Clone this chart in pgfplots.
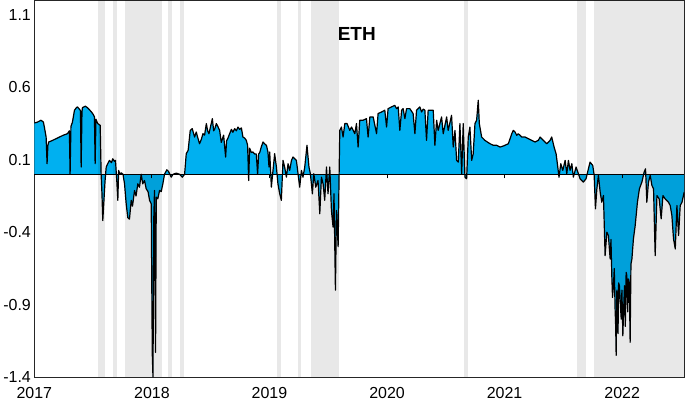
\documentclass[border=0pt]{standalone}
\usepackage{fontspec}
\setmainfont{Liberation Sans}
\usepackage{pgfplots}
\usepackage{pgfplotstable}
\pgfplotsset{compat=1.18}
\definecolor{ethblue}{RGB}{0,176,240}

% x: decimal year, y: value
\pgfplotstableread{
x y
2017.000 0.354
2017.026 0.36
2017.057 0.373
2017.077 0.36
2017.085 0.326
2017.100 0.257
2017.108 0.073
2017.115 0.20
2017.122 0.223
2017.145 0.23
2017.170 0.24
2017.196 0.25
2017.221 0.26
2017.247 0.27
2017.281 0.28
2017.298 0.30
2017.304 0.0
2017.311 0.33
2017.324 0.36
2017.341 0.442
2017.358 0.46
2017.366 0.465
2017.383 0.45
2017.392 0.44
2017.398 0.05
2017.405 0.43
2017.409 0.46
2017.434 0.47
2017.451 0.46
2017.468 0.446
2017.486 0.43
2017.503 0.41
2017.511 0.396
2017.517 0.073
2017.524 0.38
2017.539 0.35
2017.560 0.338
2017.568 0.0
2017.575 -0.135
2017.582 -0.32
2017.592 -0.18
2017.601 -0.05
2017.611 0.05
2017.622 0.07
2017.639 0.096
2017.656 0.08
2017.667 0.107
2017.681 0.09
2017.690 0.096
2017.701 -0.043
2017.710 -0.18
2017.717 0.027
2017.728 0.0
2017.739 0.01
2017.754 0.0
2017.767 -0.066
2017.781 -0.204
2017.795 -0.30
2017.809 -0.31
2017.824 -0.18
2017.835 -0.22
2017.852 -0.112
2017.865 -0.15
2017.880 -0.066
2017.894 -0.09
2017.909 0.0
2017.922 -0.066
2017.937 -0.043
2017.951 -0.10
2017.967 -0.12
2017.980 -0.18
2017.994 -0.204
2018.003 -1.24
2018.009 -1.40
2018.016 -0.30
2018.022 -0.112
2018.031 -1.23
2018.037 -0.158
2018.050 -0.17
2018.065 -0.112
2018.079 -0.12
2018.093 -0.066
2018.107 0.0
2018.127 0.031
2018.141 0.02
2018.164 -0.02
2018.180 0.0
2018.207 0.008
2018.235 0.0
2018.258 -0.02
2018.278 0.0
2018.292 0.142
2018.308 0.165
2018.326 0.303
2018.343 0.315
2018.363 0.257
2018.377 0.292
2018.391 0.25
2018.405 0.211
2018.420 0.24
2018.434 0.28
2018.448 0.27
2018.463 0.35
2018.474 0.30
2018.485 0.28
2018.499 0.33
2018.514 0.384
2018.525 0.30
2018.533 0.31
2018.548 0.35
2018.561 0.33
2018.576 0.303
2018.590 0.22
2018.610 0.27
2018.627 0.119
2018.635 0.23
2018.647 0.25
2018.661 0.28
2018.676 0.31
2018.689 0.29
2018.704 0.315
2018.718 0.30
2018.732 0.326
2018.746 0.31
2018.761 0.32
2018.774 0.257
2018.789 0.25
2018.803 0.234
2018.814 0.20
2018.823 -0.043
2018.831 0.18
2018.846 0.15
2018.859 0.154
2018.874 0.14
2018.888 0.14
2018.899 0.0
2018.908 0.14
2018.917 0.15
2018.931 0.19
2018.945 0.223
2018.959 0.21
2018.974 0.20
2018.987 0.154
2018.996 0.05
2019.002 0.154
2019.016 -0.089
2019.044 0.142
2019.059 0.05
2019.072 -0.066
2019.087 -0.135
2019.101 -0.18
2019.115 0.096
2019.129 0.05
2019.144 -0.02
2019.158 0.073
2019.172 0.027
2019.187 0.096
2019.200 0.119
2019.229 0.096
2019.257 -0.089
2019.272 0.027
2019.285 -0.02
2019.300 0.05
2019.319 0.20
2019.336 0.05
2019.348 0.004
2019.365 -0.135
2019.377 0.004
2019.394 -0.089
2019.413 -0.043
2019.428 -0.273
2019.442 -0.02
2019.456 -0.066
2019.470 -0.18
2019.485 0.05
2019.498 -0.135
2019.513 0.05
2019.527 -0.25
2019.541 -0.365
2019.549 -0.135
2019.561 -0.80
2019.570 -0.25
2019.584 -0.50
2019.592 -0.02
2019.598 0.303
2019.612 0.326
2019.626 0.257
2019.641 0.35
2019.660 0.35
2019.683 0.303
2019.698 0.326
2019.726 0.28
2019.740 0.35
2019.754 0.188
2019.768 0.373
2019.796 0.373
2019.825 0.384
2019.839 0.257
2019.854 0.396
2019.882 0.396
2019.911 0.28
2019.924 0.419
2019.953 0.43
2019.981 0.442
2019.996 0.326
2020.009 0.453
2020.038 0.465
2020.066 0.476
2020.081 0.453
2020.095 0.465
2020.109 0.303
2020.124 0.442
2020.137 0.453
2020.152 0.384
2020.166 0.453
2020.194 0.453
2020.222 0.419
2020.237 0.28
2020.251 0.442
2020.279 0.465
2020.294 0.43
2020.308 0.45
2020.322 0.442
2020.336 0.234
2020.350 0.442
2020.393 0.442
2020.407 0.20
2020.422 0.373
2020.435 0.303
2020.464 0.396
2020.478 0.28
2020.507 0.396
2020.520 0.303
2020.549 0.407
2020.563 0.188
2020.578 0.303
2020.592 0.096
2020.606 0.084
2020.620 0.35
2020.635 0.004
2020.648 0.35
2020.663 -0.02
2020.677 -0.031
2020.691 0.257
2020.705 0.326
2020.720 0.096
2020.733 0.142
2020.748 0.35
2020.762 0.373
2020.776 0.511
2020.785 0.35
2020.805 0.257
2020.833 0.234
2020.859 0.22
2020.876 0.211
2020.904 0.20
2020.933 0.20
2020.961 0.188
2020.989 0.195
2021.003 0.20
2021.032 0.211
2021.061 0.28
2021.074 0.303
2021.089 0.292
2021.103 0.269
2021.117 0.28
2021.146 0.257
2021.174 0.257
2021.202 0.246
2021.231 0.234
2021.259 0.223
2021.287 0.234
2021.302 0.257
2021.330 0.234
2021.359 0.211
2021.387 0.234
2021.401 0.257
2021.421 0.188
2021.438 0.142
2021.449 0.073
2021.463 -0.02
2021.478 0.073
2021.495 0.027
2021.515 0.096
2021.529 0.004
2021.543 0.096
2021.557 0.027
2021.572 0.073
2021.585 -0.02
2021.608 0.05
2021.628 0.004
2021.642 -0.031
2021.670 -0.054
2021.693 -0.031
2021.713 0.038
2021.727 0.084
2021.750 0.061
2021.762 -0.008
2021.773 -0.239
2021.785 -0.10
2021.798 -0.008
2021.813 -0.123
2021.827 -0.193
2021.841 -0.147
2021.855 -0.562
2021.870 -0.40
2021.883 -0.423
2021.898 -0.585
2021.905 -0.45
2021.912 -0.70
2021.918 -0.85
2021.926 -0.77
2021.933 -0.65
2021.940 -0.93
2021.945 -1.05
2021.949 -1.25
2021.955 -0.80
2021.960 -0.93
2021.965 -1.10
2021.970 -0.75
2021.977 -0.77
2021.985 -0.90
2021.992 -1.00
2021.998 -0.80
2022.006 -1.115
2022.012 -0.95
2022.020 -0.77
2022.027 -1.05
2022.034 -0.677
2022.040 -0.70
2022.047 -0.95
2022.054 -0.723
2022.061 -0.75
2022.068 -1.16
2022.075 -0.62
2022.083 -0.585
2022.096 -0.446
2022.111 -0.354
2022.130 -0.193
2022.147 -0.10
2022.168 -0.054
2022.187 0.015
2022.199 0.038
2022.210 -0.193
2022.224 -0.054
2022.239 -0.008
2022.253 -0.077
2022.267 -0.10
2022.281 -0.562
2022.296 -0.147
2022.315 -0.17
2022.332 -0.308
2022.347 -0.147
2022.366 -0.17
2022.394 -0.193
2022.409 -0.216
2022.423 -0.285
2022.437 -0.446
2022.452 -0.516
2022.466 -0.216
2022.480 -0.423
2022.494 -0.216
2022.509 -0.193
2022.528 -0.123
}\ethdata

\begin{document}
\begin{tikzpicture}
\pgfplotsset{
  ethframe/.style={
    scale only axis,
    width=649bp, height=376bp,
    xmin=2017, xmax=2022.53,
    ymin=-1.4, ymax=1.2,
  }
}
\begin{axis}[
    ethframe,
    xtick={2017,2018,2019,2020,2021,2022},
    xticklabels={2017,2018,2019,2020,2021,2022},
    ytick={-1.4,-0.9,-0.4,0.1,0.6,1.1},
    yticklabels={-1.4,-0.9,-0.4,0.1,0.6,1.1},
    major tick length=0pt,
    tick label style={font=\fontsize{16}{18}\selectfont},
    xticklabel style={yshift=-7bp},
    axis line style={black!85, line width=0.9pt},
]
    % area between the series and zero
    \addplot[draw=none, fill=ethblue] table[x=x, y=y] {\ethdata} \closedcycle;

    % shaded periods
    \addplot[draw=none, fill=black, fill opacity=0.09] coordinates {(2017.545,-1.4) (2017.545,1.2) (2017.605,1.2) (2017.605,-1.4)} -- cycle;
    \addplot[draw=none, fill=black, fill opacity=0.09] coordinates {(2017.673,-1.4) (2017.673,1.2) (2017.707,1.2) (2017.707,-1.4)} -- cycle;
    \addplot[draw=none, fill=black, fill opacity=0.09] coordinates {(2017.767,-1.4) (2017.767,1.2) (2018.082,1.2) (2018.082,-1.4)} -- cycle;
    \addplot[draw=none, fill=black, fill opacity=0.09] coordinates {(2018.141,-1.4) (2018.141,1.2) (2018.175,1.2) (2018.175,-1.4)} -- cycle;
    \addplot[draw=none, fill=black, fill opacity=0.09] coordinates {(2018.235,-1.4) (2018.235,1.2) (2018.269,1.2) (2018.269,-1.4)} -- cycle;
    \addplot[draw=none, fill=black, fill opacity=0.09] coordinates {(2019.061,-1.4) (2019.061,1.2) (2019.095,1.2) (2019.095,-1.4)} -- cycle;
    \addplot[draw=none, fill=black, fill opacity=0.09] coordinates {(2019.240,-1.4) (2019.240,1.2) (2019.266,1.2) (2019.266,-1.4)} -- cycle;
    \addplot[draw=none, fill=black, fill opacity=0.09] coordinates {(2019.351,-1.4) (2019.351,1.2) (2019.589,1.2) (2019.589,-1.4)} -- cycle;
    \addplot[draw=none, fill=black, fill opacity=0.09] coordinates {(2020.654,-1.4) (2020.654,1.2) (2020.688,1.2) (2020.688,-1.4)} -- cycle;
    \addplot[draw=none, fill=black, fill opacity=0.09] coordinates {(2021.617,-1.4) (2021.617,1.2) (2021.693,1.2) (2021.693,-1.4)} -- cycle;
    \addplot[draw=none, fill=black, fill opacity=0.09] coordinates {(2021.762,-1.4) (2021.762,1.2) (2022.53,1.2) (2022.53,-1.4)} -- cycle;

    % the series itself
    \addplot[black, line width=1.2pt, line join=round] table[x=x, y=y] {\ethdata};

    \node[font=\fontsize{19}{21}\selectfont\bfseries] at (rel axis cs:0.496,0.91) {ETH};
\end{axis}

% zero line with its small ticks
\begin{axis}[
    ethframe,
    axis x line=middle,
    axis y line=none,
    xtick={2018,2019,2020,2021,2022},
    xticklabels={},
    ytick=\empty,
    tick align=outside,
    major tick length=4bp,
    axis line style={-, black, line width=1.1pt},
    x tick style={black, line width=0.9pt},
]
    \addplot[draw=none] coordinates {(2017,0) (2022.5,0)};
\end{axis}
\end{tikzpicture}
\end{document}
